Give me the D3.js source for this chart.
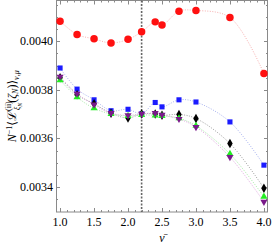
<!DOCTYPE html>
<html>
<head>
<meta charset="utf-8">
<style>
  body { margin: 0; background: #fff; }
  text { font-family: "Liberation Serif", "DejaVu Serif", serif; }
</style>
</head>
<body>
<svg width="272" height="245"></svg>
<script src="https://d3js.org/d3.v7.min.js"></script>
<script>

// x positions (nu bar)
var nu = [1.0, 1.25, 1.5, 1.75, 2.0, 2.2, 2.4, 2.5, 2.75, 3.0, 3.5, 4.0];

// series values
var redVals    = [0.004083, 0.004028, 0.004010, 0.003993, 0.004008, 0.004039, 0.004080, 0.004067, 0.004124, 0.004127, 0.004098, 0.003867];
var blueVals   = [0.003890, 0.003803, 0.003759, 0.003714, 0.003720, 0.003701, 0.003748, 0.003730, 0.003759, 0.003750, 0.003668, 0.003490];
var blackVals  = [0.003850, 0.003780, 0.003743, 0.003704, 0.003684, 0.003701, 0.003701, 0.003695, 0.003699, 0.003682, 0.003579, 0.003395];
var greenVals  = [0.003840, 0.003770, 0.003724, 0.003701, 0.003693, 0.003697, 0.003695, 0.003693, 0.003683, 0.003652, 0.003536, 0.003360];
var purpleVals = [0.003854, 0.003784, 0.003739, 0.003704, 0.003695, 0.003701, 0.003704, 0.003697, 0.003680, 0.003647, 0.003523, 0.003339];

var xTicks = [1.0, 1.5, 2.0, 2.5, 3.0, 3.5, 4.0];
var yTicks = [0.0034, 0.0036, 0.0038, 0.0040];
var criticalNu = 2.2;

var svg = d3.select("svg"),
    pLeft = 56, pRight = 268, pTop = 0.5, pBottom = 212;

var x = d3.scaleLinear().domain([0.94, 4.06]).range([pLeft, pRight]);
var y = d3.scaleLinear().domain([0.003297, 0.004168]).range([pBottom, pTop]);

// frame
svg.append("rect")
    .attr("x", pLeft + 0.5)
    .attr("y", pTop)
    .attr("width", pRight - pLeft - 1)
    .attr("height", pBottom - pTop)
    .attr("fill", "none")
    .attr("stroke", "#8a8a8a")
    .attr("stroke-width", 1);

var g = svg.append("g");

// ticks, drawn inward on every side
var xMinor = d3.range(1.0, 4.0001, 0.1);
var yMinor = d3.range(0.0033, 0.00417, 0.00005);

function tickLines(vals, len, horizontal) {
    vals.forEach(function(v) {
        if (horizontal) {
            var px = Math.round(x(v)) + 0.5;
            g.append("line").attr("x1", px).attr("x2", px).attr("y1", pBottom).attr("y2", pBottom - len).attr("stroke", "#8a8a8a");
            g.append("line").attr("x1", px).attr("x2", px).attr("y1", pTop).attr("y2", pTop + len).attr("stroke", "#8a8a8a");
        } else {
            var py = Math.round(y(v)) + 0.5;
            if (py < pTop + 1 || py > pBottom - 1) return;
            g.append("line").attr("x1", pLeft).attr("x2", pLeft + len).attr("y1", py).attr("y2", py).attr("stroke", "#8a8a8a");
            g.append("line").attr("x1", pRight).attr("x2", pRight - len).attr("y1", py).attr("y2", py).attr("stroke", "#8a8a8a");
        }
    });
}
tickLines(xMinor, 2, true);
tickLines(xTicks, 4, true);
tickLines(yMinor, 2, false);
tickLines(yTicks, 4, false);

svg.append("g").selectAll("text")
    .data(xTicks)
    .enter().append("text")
    .attr("x", function(d) { return x(d); })
    .attr("y", pBottom + 14)
    .attr("text-anchor", "middle")
    .style("font-size", "12px")
    .text(function(d) { return d3.format(".1f")(d); });

svg.append("g").selectAll("text")
    .data(yTicks)
    .enter().append("text")
    .attr("x", pLeft - 3)
    .attr("y", function(d) { return y(d) + 4; })
    .attr("text-anchor", "end")
    .style("font-size", "12px")
    .text(function(d) { return d3.format(".4f")(d); });

// critical line
svg.append("line")
    .attr("x1", x(criticalNu)).attr("x2", x(criticalNu))
    .attr("y1", pTop).attr("y2", pBottom)
    .attr("stroke", "#666")
    .attr("stroke-width", 1.6)
    .attr("stroke-dasharray", "2,1.5");

var series = [
    {vals: blueVals,   line: "#a9b3f0", color: "#1b1bff", symbol: d3.symbolSquare,   size: 26},
    {vals: blackVals,  line: "#a0a0a0", color: "#000000", symbol: d3.symbolDiamond,  size: 26},
    {vals: greenVals,  line: "#a8eaa8", color: "#22ee22", symbol: d3.symbolTriangle, size: 22, rot: 0},
    {vals: purpleVals, line: "#e0a8e0", color: "#7a1a8a", symbol: d3.symbolTriangle, size: 22, rot: 180},
    {vals: redVals,    line: "#f7b0b0", color: "#ff1010", symbol: d3.symbolCircle,   size: 44}
];

var line = d3.line()
    .curve(d3.curveCatmullRom.alpha(0.5))
    .x(function(d, i) { return x(nu[i]); })
    .y(function(d) { return y(d); });

series.forEach(function(s) {
    svg.append("path")
        .datum(s.vals)
        .attr("fill", "none")
        .attr("stroke", s.line)
        .attr("stroke-width", 1)
        .attr("stroke-dasharray", "1,1.5")
        .attr("d", line);
});

series.forEach(function(s) {
    svg.append("g").selectAll("path")
        .data(s.vals)
        .enter().append("path")
        .attr("d", d3.symbol().type(s.symbol).size(s.size))
        .attr("transform", function(d, i) {
            return "translate(" + x(nu[i]) + "," + y(d) + ")" + (s.rot ? " rotate(" + s.rot + ")" : "");
        })
        .attr("fill", s.color);
});

// axis labels
svg.append("text")
    .attr("x", (pLeft + pRight) / 2)
    .attr("y", 242)
    .attr("text-anchor", "middle")
    .style("font-size", "12px")
    .style("font-style", "italic")
    .text("\u03bd\u0304");

var yl = svg.append("text")
    .attr("transform", "translate(16," + ((pTop + pBottom) / 2) + ") rotate(-90)")
    .attr("text-anchor", "middle")
    .style("font-size", "12px");
yl.append("tspan").style("font-style", "italic").text("N");
yl.append("tspan").attr("dy", -4).style("font-size", "8px").text("\u22121");
yl.append("tspan").attr("dy", 4).text("\u27e8");
yl.append("tspan").text("\u2112");
yl.append("tspan").attr("dy", -5).style("font-size", "8px").text("(ii)");
yl.append("tspan").attr("dx", -9).attr("dy", 9).style("font-size", "8px").style("font-style", "italic").text("\u03be");
yl.append("tspan").attr("dy", 2).style("font-size", "6px").style("font-style", "italic").text("N");
yl.append("tspan").attr("dy", -6).text("(");
yl.append("tspan").style("font-style", "italic").text("\u03b6");
yl.append("tspan").attr("dy", 2).style("font-size", "8px").style("font-style", "italic").text("N");
yl.append("tspan").attr("dy", -2).text(")\u27e9");
yl.append("tspan").attr("dy", 3).style("font-size", "8px").style("font-style", "italic").text("\u03bd,\u03bc");

</script>
</body>
</html>
